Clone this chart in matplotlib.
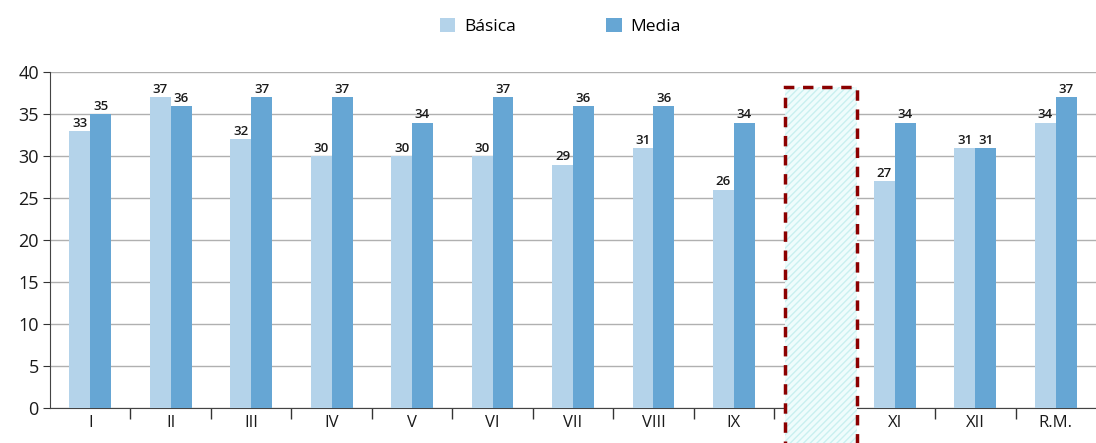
import matplotlib
matplotlib.use('agg')

import matplotlib.pyplot as plt
from matplotlib.patches import Rectangle
import numpy as np

categories = ["I", "II", "III", "IV", "V", "VI", "VII", "VIII", "IX", "X", "XI", "XII", "R.M."]
basica = [33, 37, 32, 30, 30, 30, 29, 31, 26, np.nan, 27, 31, 34]
media = [35, 36, 37, 37, 34, 37, 36, 36, 34, np.nan, 34, 31, 37]

plt.rcParams['font.family'] = ['Open Sans', 'DejaVu Sans']

fig = plt.figure(figsize=(10.96, 4.43), dpi=100)
ax = fig.add_axes([0.0456, 0.079, 0.9544, 0.758])

x = np.arange(len(categories))
w = 0.26
c_bas = '#b4d3ea'
c_med = '#66a6d4'

b1 = ax.bar(x - w / 2, basica, w, color=c_bas, label='Básica', zorder=3)
b2 = ax.bar(x + w / 2, media, w, color=c_med, label='Media', zorder=3)

for bars, vals in ((b1, basica), (b2, media)):
    for rect, v in zip(bars, vals):
        if np.isnan(v):
            continue
        ax.text(rect.get_x() + rect.get_width() / 2, v + 0.15, f"{int(v)}",
                ha='center', va='bottom', fontsize=9.5, fontweight='semibold',
                color='#1a1a1a', zorder=4)

ax.set_xlim(-0.5, len(categories) - 0.5)
ax.set_ylim(0, 40)
ax.set_yticks(np.arange(0, 41, 5))
ax.set_xticks(x)
ax.set_xticklabels(categories)
ax.set_xticks(np.arange(0.5, len(categories) - 0.5), minor=True)
ax.tick_params(axis='x', which='major', length=0, labelsize=12, pad=5, colors='#1a1a1a')
ax.tick_params(axis='x', which='minor', length=8, color='#333333', width=1)
ax.tick_params(axis='y', length=5, labelsize=13, color='#333333', colors='#1a1a1a', pad=3)

ax.grid(axis='y', color='#b0b0b0', linewidth=1, zorder=0)
for s in ('top', 'right'):
    ax.spines[s].set_visible(False)
ax.spines['left'].set_color('#444444')
ax.spines['bottom'].set_color('#444444')

# masked category X
ax.add_patch(Rectangle((8.63, -10), 0.9, 48.2, facecolor='#effcfc', edgecolor='#c9f0f0',
                       hatch='/////', linewidth=0, zorder=5, clip_on=False))
ax.add_patch(Rectangle((8.63, -10), 0.9, 48.2, facecolor='none', edgecolor='#8b0000',
                       linestyle=(0, (3, 2.5)), linewidth=2.5, zorder=6, clip_on=False))

fig.legend(handles=[b1, b2], labels=['Básica', 'Media'], loc='center',
           bbox_to_anchor=(0.511, 0.94), ncol=2, frameon=False, fontsize=12.5,
           handlelength=0.9, handleheight=0.9, columnspacing=5.2, handletextpad=0.5)

fig.savefig('out.png', dpi=100)
